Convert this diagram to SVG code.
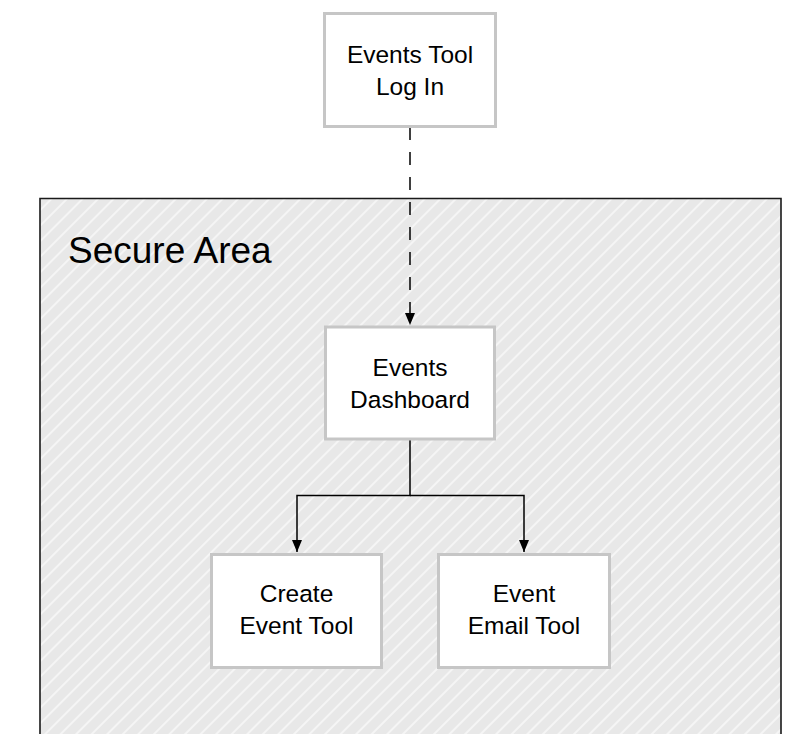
<svg xmlns="http://www.w3.org/2000/svg" width="802" height="734" viewBox="0 0 802 734">
<style>
.node rect{fill:#ffffff;stroke:#c6c6c6;stroke-width:3}
.lbl{font-family:"Liberation Sans",Arial,Helvetica,sans-serif;font-size:24.5px;fill:#000;text-anchor:middle}
.conn{stroke:#000;stroke-width:1.5;fill:none}
</style>
<defs>
<pattern id="hatch" patternUnits="userSpaceOnUse" width="11" height="11" patternTransform="rotate(45)">
<rect width="11" height="11" fill="#e8e8e8"/>
<line x1="1" y1="0" x2="1" y2="11" stroke="#ffffff" stroke-width="1.5" stroke-opacity="0.75"/>
</pattern>
<marker id="arrow" markerUnits="userSpaceOnUse" markerWidth="12" markerHeight="14" refX="12" refY="5" orient="auto" viewBox="0 0 12 10">
<path d="M0,0 L12,5 L0,10 Z" fill="#000"/>
</marker>
</defs>
<g id="secure-area">
<path d="M40,736 L40,198.5 L781,198.5 L781,736" fill="url(#hatch)" stroke="#1a1a1a" stroke-width="1.6"/>
<text x="68" y="263" font-family="Liberation Sans,Arial,Helvetica,sans-serif" font-size="37" fill="#000">Secure Area</text>
</g>
<g id="connectors">
<line class="conn" x1="410" y1="127" x2="410" y2="325" stroke-dasharray="13 12" marker-end="url(#arrow)"/>
<polyline class="conn" points="410,439 410,495.5 297,495.5 297,552" marker-end="url(#arrow)"/>
<polyline class="conn" points="410,495.5 524,495.5 524,552" marker-end="url(#arrow)"/>
</g>
<g id="login" class="node">
<rect x="324.5" y="13.5" width="171" height="113"/>
<text class="lbl" x="410" y="63">Events Tool</text>
<text class="lbl" x="410" y="94.5">Log In</text>
</g>
<g id="dashboard" class="node">
<rect x="325.5" y="327" width="169" height="112"/>
<text class="lbl" x="410" y="375.5">Events</text>
<text class="lbl" x="410" y="407.5">Dashboard</text>
</g>
<g id="create-event" class="node">
<rect x="211.5" y="554.5" width="170" height="113"/>
<text class="lbl" x="296.5" y="602">Create</text>
<text class="lbl" x="296.5" y="634">Event Tool</text>
</g>
<g id="event-email" class="node">
<rect x="438.5" y="554.5" width="171" height="113"/>
<text class="lbl" x="524" y="602">Event</text>
<text class="lbl" x="524" y="634">Email Tool</text>
</g>
</svg>
